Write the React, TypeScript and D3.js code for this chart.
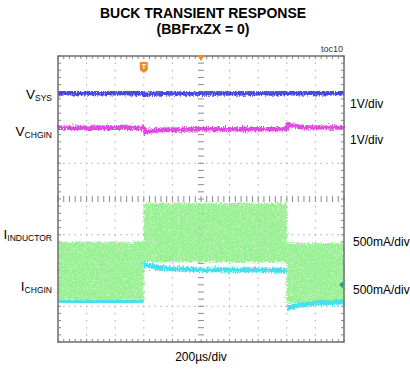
import React from "react";
import * as d3 from "d3";

// Time axis in divisions (200µs/div), vertical axis in screen divisions (center = 0)
const vsysTrace: [number, number][] = [
  [0, 2.96], [3.0, 2.96], [3.04, 2.9], [3.3, 2.95], [10, 2.96],
];
const vchginTrace: [number, number][] = [
  [0, 1.99], [3.0, 1.99], [3.06, 1.86], [3.5, 1.93], [5, 1.95], [8.0, 1.96],
  [8.05, 2.08], [8.5, 2.01], [10, 2.0],
];
// Inductor current ripple envelope: [t, low, high]
const inductorBand: [number, number, number][] = [
  [0, -2.84, -1.2], [3.0, -2.84, -1.2], [3.0, -1.76, -0.12], [8.0, -1.76, -0.12],
  [8.0, -2.9, -1.23], [10, -2.9, -1.23],
];
const ichginSegments: [number, number][][] = [
  [[0, -2.88], [3.0, -2.86]],
  [[3.0, -1.82], [3.4, -1.9], [4.0, -1.95], [5.0, -1.98], [8.0, -1.99]],
  [[8.0, -3.05], [8.4, -2.97], [9.0, -2.91], [10, -2.88]],
];

const leftLabels = [
  { main: "V", sub: "SYS", y: 99 },
  { main: "V", sub: "CHGIN", y: 136 },
  { main: "I", sub: "INDUCTOR", y: 239 },
  { main: "I", sub: "CHGIN", y: 291 },
];
const rightLabels = [
  { text: "1V/div", y: 108, x: 350 },
  { text: "1V/div", y: 144, x: 350 },
  { text: "500mA/div", y: 246, x: 353 },
  { text: "500mA/div", y: 294, x: 353 },
];

const W = 410;
const H = 372;
const X0 = 58, X1 = 344, Y0 = 56, Y1 = 342;

export default function App() {
  const x = d3.scaleLinear().domain([0, 10]).range([X0, X1]);
  const y = d3.scaleLinear().domain([-4, 4]).range([Y1, Y0]);

  const line = d3.line<[number, number]>().x((d) => x(d[0])).y((d) => y(d[1]));
  const band = d3
    .area<[number, number, number]>()
    .x((d) => x(d[0]))
    .y0((d) => y(d[1]))
    .y1((d) => y(d[2]));

  const majorX = d3.range(1, 10);
  const majorY = d3.range(-3, 4);
  const minorX = d3.range(0, 50.01).map((i) => i / 5);
  const minorY = d3.range(0, 40.01).map((i) => -4 + i / 5);
  const font = "'Liberation Sans', Arial, sans-serif";
  const gridColor = "#a4a4a4";

  return (
    <svg width={W} height={H} style={{ position: "absolute", left: 0, top: 0 }} fontFamily={font}>
      <defs>
        <filter id="traceNoise" x="-5%" y="-60%" width="110%" height="220%">
          <feTurbulence type="fractalNoise" baseFrequency="0.9 0.4" numOctaves="2" seed="3" result="n" />
          <feDisplacementMap in="SourceGraphic" in2="n" scale="6" xChannelSelector="R" yChannelSelector="G" />
        </filter>
        <filter id="bandNoise" x="-5%" y="-20%" width="110%" height="140%">
          <feTurbulence type="fractalNoise" baseFrequency="1.1" numOctaves="2" seed="7" result="n" />
          <feDisplacementMap in="SourceGraphic" in2="n" scale="7" xChannelSelector="R" yChannelSelector="G" result="d" />
          <feTurbulence type="fractalNoise" baseFrequency="1.4" numOctaves="1" seed="11" result="g" />
          <feColorMatrix in="g" type="matrix"
            values="0 0 0 0 0  0 0 0 0 0  0 0 0 0 0  0 0 0 2.0 -0.25" result="ga" />
          <feComposite in="d" in2="ga" operator="in" result="speck" />
          <feMerge>
            <feMergeNode in="speck" />
            <feMergeNode in="speck" />
          </feMerge>
        </filter>
      </defs>
      <rect width={W} height={H} fill="#fff" />

      <text x={203} y={18} textAnchor="middle" fontSize={14} fontWeight="bold">BUCK TRANSIENT RESPONSE</text>
      <text x={203} y={34} textAnchor="middle" fontSize={14} fontWeight="bold">(BBFrxZX = 0)</text>
      <text x={343} y={52} textAnchor="end" fontSize={9} fill="#333">toc10</text>

      {/* dotted graticule */}
      {majorX.filter((v) => v !== 5).map((v) => (
        <g key={"gx" + v}>
          {minorY.map((u, i) => (
            <rect key={i} x={x(v) - 0.5} y={y(u) - 0.5} width={1} height={1.4} fill={gridColor} />
          ))}
        </g>
      ))}
      {majorY.filter((v) => v !== 0).map((v) => (
        <g key={"gy" + v}>
          {minorX.map((u, i) => (
            <rect key={i} x={x(u) - 0.7} y={y(v) - 0.5} width={1.4} height={1} fill={gridColor} />
          ))}
        </g>
      ))}
      {/* center cross ticks */}
      {minorX.map((u, i) => (
        <line key={"cx" + i} x1={x(u)} x2={x(u)} y1={y(0) - 3} y2={y(0) + 3} stroke="#8a8a8a" strokeWidth={1} />
      ))}
      {minorY.map((u, i) => (
        <line key={"cy" + i} x1={x(5) - 3} x2={x(5) + 3} y1={y(u)} y2={y(u)} stroke="#8a8a8a" strokeWidth={1} />
      ))}
      {/* frame ticks */}
      {minorX.map((u, i) => (
        <g key={"fx" + i}>
          <line x1={x(u)} x2={x(u)} y1={Y0} y2={Y0 + 3} stroke="#8a8a8a" />
          <line x1={x(u)} x2={x(u)} y1={Y1} y2={Y1 - 3} stroke="#8a8a8a" />
        </g>
      ))}
      {minorY.map((u, i) => (
        <g key={"fy" + i}>
          <line x1={X0} x2={X0 + 3} y1={y(u)} y2={y(u)} stroke="#8a8a8a" />
          <line x1={X1} x2={X1 - 3} y1={y(u)} y2={y(u)} stroke="#8a8a8a" />
        </g>
      ))}

      {/* traces */}
      <path d={band(inductorBand) ?? ""} fill="#96ef90" filter="url(#bandNoise)" />
      <path d={line(vsysTrace) ?? ""} fill="none" stroke="#4a4ade" strokeWidth={4.5} filter="url(#traceNoise)" />
      <path d={line(vchginTrace) ?? ""} fill="none" stroke="#e04ae2" strokeWidth={4.5} filter="url(#traceNoise)" />
      {ichginSegments.map((s, i) => (
        <path key={i} d={line(s) ?? ""} fill="none" stroke="#44e0ee" strokeWidth={5} filter="url(#traceNoise)" />
      ))}

      <rect x={X0} y={Y0} width={X1 - X0} height={Y1 - Y0} fill="none" stroke="#6e6e6e" strokeWidth={1.5} />

      {/* trigger markers */}
      <path d={`M${x(5) - 4},${Y0 - 1} L${x(5) + 4},${Y0 - 1} L${x(5)},${Y0 + 5} Z`} fill="#f08a2a" />
      <g transform={`translate(${x(3)},${Y0 + 6})`}>
        <path d="M-4,0 L4,0 L4,8 L0,11 L-4,8 Z" fill="#f08a2a" />
        <text x={0} y={7} textAnchor="middle" fontSize={7} fill="#fff" fontWeight="bold">T</text>
      </g>
      <path d={`M${X1 - 1},${y(-2.4) - 3.5} L${X1 - 5},${y(-2.4)} L${X1 - 1},${y(-2.4) + 3.5} Z`} fill="#2aa080" />

      {leftLabels.map((l, i) => (
        <text key={i} x={52} y={l.y} textAnchor="end" fontSize={13.5}>
          {l.main}
          <tspan fontSize={8.5} dy={2}>{l.sub}</tspan>
        </text>
      ))}
      {rightLabels.map((l, i) => (
        <text key={i} x={l.x} y={l.y} fontSize={12}>{l.text}</text>
      ))}
      <text x={201} y={361} textAnchor="middle" fontSize={12}>200µs/div</text>
    </svg>
  );
}
